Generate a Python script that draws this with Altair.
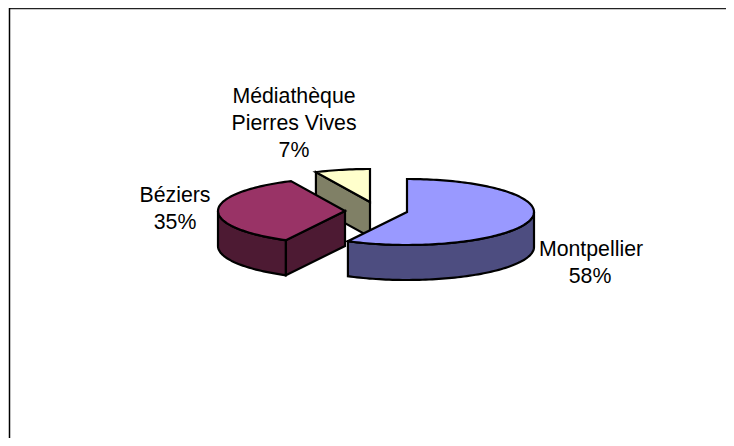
import numpy as np
import pandas as pd
import altair as alt

# Chart values
categories = ["Montpellier", "Béziers", "Médiathèque Pierres Vives"]
shares = [57.7, 35.3, 7.0]
share_labels = ["58%", "35%", "7%"]

top_colors = ["#9999FF", "#993366", "#FFFFCC"]
side_colors = ["#4D4D80", "#4D1A33", "#808066"]

# Layout of the exploded pseudo-3D pie (reference pixel space)
centers = [(407, 212), (345, 211), (370, 202)]
RX, RY, DEPTH = 127, 33, 35
W, H = 718, 430
OX, OY = 8, 8

xs = alt.Scale(domain=[OX, OX + W], range=[0, W], nice=False, zero=False)
ys = alt.Scale(domain=[OY, OY + H], range=[0, H], nice=False, zero=False)


def pt(c, deg, drop=0):
    a = np.radians(deg)
    return (c[0] + RX * np.sin(a), c[1] - RY * np.cos(a) + drop)


def arc(c, a0, a1, drop=0):
    n = max(2, int(abs(a1 - a0) / 1.5) + 1)
    return [pt(c, d, drop) for d in np.linspace(a0, a1, n)]


def poly(points, fill):
    df = pd.DataFrame(points, columns=["x", "y"])
    df["i"] = range(len(df))
    return alt.Chart(df).mark_line(
        interpolate="linear-closed", fill=fill, stroke="black",
        strokeWidth=2.2, strokeJoin="miter", clip=False,
    ).encode(
        x=alt.X("x:Q", scale=xs, axis=None),
        y=alt.Y("y:Q", scale=ys, axis=None),
        order=alt.Order("i:Q"),
    )


# Angles clockwise from 12 o'clock
edges = np.cumsum([0] + shares) * 3.6
a_m = (edges[0], edges[1])
a_b = (edges[1], edges[2])
a_v = (edges[2], edges[3])

layers = []
# Médiathèque: cut face, then top
c = centers[2]
e = pt(c, a_v[0])
e2 = pt(c, a_v[0], DEPTH)
layers.append(poly([e, c, (c[0], c[1] + DEPTH), e2], side_colors[2]))
layers.append(poly([c] + arc(c, *a_v), top_colors[2]))
# Béziers: outer wall, cut face, top
c = centers[1]
layers.append(poly(arc(c, a_b[0], 270) + arc(c, 270, a_b[0], DEPTH), side_colors[1]))
e = pt(c, a_b[0])
e2 = pt(c, a_b[0], DEPTH)
layers.append(poly([c, e, e2, (c[0], c[1] + DEPTH)], side_colors[1]))
layers.append(poly([c] + arc(c, *a_b), top_colors[1]))
# Montpellier: outer wall, top
c = centers[0]
layers.append(poly(arc(c, 90, a_m[1]) + arc(c, a_m[1], 90, DEPTH), side_colors[0]))
layers.append(poly([c] + arc(c, *a_m), top_colors[0]))

# Frame: top and left edges only
frame_top = pd.DataFrame({"x": [9], "x2": [726], "y": [8.5]})
frame_left = pd.DataFrame({"x": [9.5], "y": [8], "y2": [438]})
layers.append(alt.Chart(frame_top).mark_rule(color="#222222", strokeWidth=1.5).encode(
    x=alt.X("x:Q", scale=xs, axis=None), x2="x2:Q", y=alt.Y("y:Q", scale=ys, axis=None)))
layers.append(alt.Chart(frame_left).mark_rule(color="black", strokeWidth=1.5).encode(
    x=alt.X("x:Q", scale=xs, axis=None), y=alt.Y("y:Q", scale=ys, axis=None), y2="y2:Q"))

# Labels
label_text = ["Montpellier", share_labels[0], "Béziers", share_labels[1],
              "Médiathèque", "Pierres Vives", share_labels[2]]
label_x = [591, 590, 175, 175, 294, 294, 294]
label_y = [256, 283, 202, 229, 103, 129.5, 157]
labels = pd.DataFrame({"t": label_text, "x": label_x, "y": label_y})
layers.append(alt.Chart(labels).mark_text(
    font="Liberation Sans", fontSize=21.3, color="black", align="center", baseline="alphabetic",
).encode(
    x=alt.X("x:Q", scale=xs, axis=None),
    y=alt.Y("y:Q", scale=ys, axis=None),
    text="t:N",
))

chart = alt.layer(*layers).properties(
    width=W, height=H, padding=0, autosize=alt.AutoSizeParams(type="none"),
    background="white",
).configure_view(stroke=None)

chart.save("out.html", embed_options={"renderer": "svg", "actions": False})
